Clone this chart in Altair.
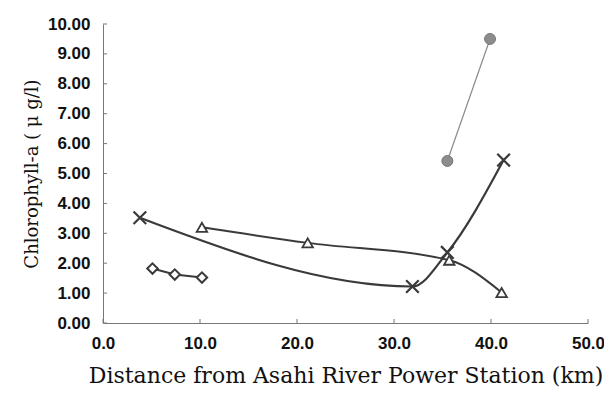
import altair as alt
import pandas as pd

# Series data
dia_x = [5.1, 7.4, 10.2]
dia_y = [1.82, 1.62, 1.52]

tri_x = [10.2, 21.1, 35.7, 41.1]
tri_y = [3.2, 2.68, 2.1, 1.02]

crs_x = [3.8, 31.9, 35.5, 41.3]
crs_y = [3.52, 1.22, 2.36, 5.45]

cir_x = [35.5, 39.9]
cir_y = [5.42, 9.5]

y_ticks = [0, 1, 2, 3, 4, 5, 6, 7, 8, 9, 10]
x_ticks = [0, 10, 20, 30, 40, 50]

dia = pd.DataFrame({"x": dia_x, "y": dia_y})
tri = pd.DataFrame({"x": tri_x, "y": tri_y})
crs = pd.DataFrame({"x": crs_x, "y": crs_y})
cir = pd.DataFrame({"x": cir_x, "y": cir_y})
yt = pd.DataFrame({"v": y_ticks})
xt = pd.DataFrame({"v": x_ticks})

LINE = "#3a3a3a"
XS = alt.Scale(domain=[0, 50], nice=False, zero=False)
YS = alt.Scale(domain=[0, 10], nice=False)

xax = alt.Axis(values=x_ticks, format=".1f", ticks=False, grid=False,
               domainColor="#777", labelFont="Liberation Sans", labelFontWeight="bold",
               labelFontSize=17, labelColor="#111", labelPadding=12,
               labelOverlap=False, labelBound=False, labelFlush=False,
               title="Distance from Asahi River Power Station (km)",
               titleFont="DejaVu Serif", titleFontWeight="normal", titleFontSize=22,
               titleColor="#111", titlePadding=14)
yax = alt.Axis(values=y_ticks, format=".2f", ticks=False, grid=False,
               domainColor="#777", labelFont="Liberation Sans", labelFontWeight="bold",
               labelFontSize=17, labelColor="#111", labelPadding=13,
               labelOverlap=False, labelBound=False, labelFlush=False,
               title="Chlorophyll-a ( μ g/l)",
               titleFont="DejaVu Serif", titleFontWeight="normal", titleFontSize=18,
               titleColor="#111", titlePadding=6)

def enc(chart):
    return chart.encode(x=alt.X("x:Q", scale=XS, axis=xax), y=alt.Y("y:Q", scale=YS, axis=yax))

dia_line = enc(alt.Chart(dia).mark_line(color=LINE, strokeWidth=2))
dia_pt = enc(alt.Chart(dia).mark_point(shape="diamond", size=110, filled=True,
                                          fill="white", stroke=LINE, strokeWidth=2, opacity=1))

tri_line = enc(alt.Chart(tri).mark_line(color=LINE, strokeWidth=2, interpolate="monotone"))
tri_pt = enc(alt.Chart(tri).mark_point(shape="triangle-up", size=110, filled=True,
                                          fill="white", stroke=LINE, strokeWidth=1.8, opacity=1))

crs_line = enc(alt.Chart(crs).mark_line(color=LINE, strokeWidth=2.2, interpolate="monotone"))
crs_pt = enc(alt.Chart(crs).mark_point(shape="M-1,-1L1,1M1,-1L-1,1", size=160, filled=False,
                                          stroke=LINE, strokeWidth=2.2, opacity=1))

cir_line = enc(alt.Chart(cir).mark_line(color="#8a8a8a", strokeWidth=1.2))
cir_pt = enc(alt.Chart(cir).mark_point(shape="circle", size=120, filled=True,
                                          fill="#8c8c8c", stroke="#777", strokeWidth=1, opacity=1))

ytick = alt.Chart(yt).mark_rule(color="#777", strokeWidth=1).encode(
    y=alt.Y("v:Q", scale=YS, axis=yax), x=alt.value(0), x2=alt.value(4))
xtick = alt.Chart(xt).mark_rule(color="#777", strokeWidth=1).encode(
    x=alt.X("v:Q", scale=XS, axis=xax), y=alt.value(299), y2=alt.value(295))

chart = alt.layer(
    dia_line, ytick, xtick, tri_line, crs_line, cir_line, dia_pt, tri_pt, crs_pt, cir_pt
).properties(
    width=485, height=299, autosize="none",
    padding={"left": 95, "top": 16, "right": 16, "bottom": 70},
    background="white",
).configure_view(stroke=None).configure_axis(labelOverlap=False)

chart.save("out.html", embed_options={"renderer": "svg", "actions": False})
